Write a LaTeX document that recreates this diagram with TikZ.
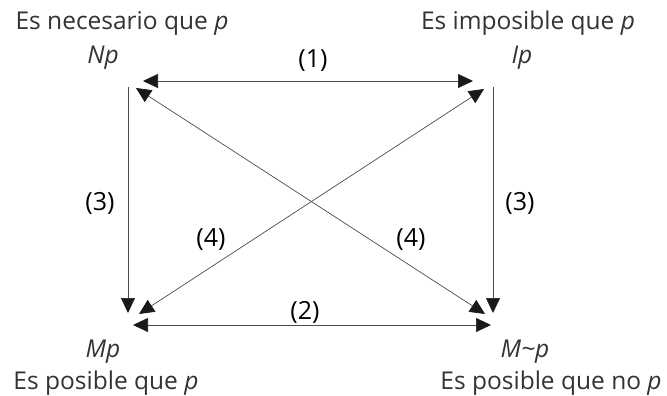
\documentclass[tikz,border=0pt]{standalone}
\usepackage{fontspec}
\setmainfont{Open Sans}
\usetikzlibrary{arrows.meta}
\begin{document}
\begin{tikzpicture}[x=1pt,y=-1pt,
  lbl/.style={inner sep=0pt, font=\fontsize{24.5}{28}\selectfont, text=black!80},
  num/.style={inner sep=0pt, font=\fontsize{25}{29}\selectfont, text=black},
  tip/.tip={Triangle[length=15pt,width=14pt,color=black!90]},
  con/.style={draw=black!70, line width=0.7pt, {tip}-{tip}},
  one/.style={draw=black!70, line width=0.7pt, -{tip}}]
\useasboundingbox (0,0) rectangle (667,396);
% labels
\node[lbl] (tN) at (122,23) {Es necesario que \textit{p}};
\node[lbl] (N) at (103,58) {\textit{Np}};
\node[lbl] (tI) at (528,23) {Es imposible que \textit{p}};
\node[lbl] (I) at (522,58) {\textit{Ip}};
\node[lbl] (M) at (103,352) {\textit{Mp}};
\node[lbl] (tM) at (106,383) {Es posible que \textit{p}};
\node[lbl] (Mn) at (525,352) {\textit{M\char"007Ep}};
\node[lbl] (tMn) at (551,383) {Es posible que no \textit{p}};
\node[num] (l1) at (313,61) {(1)};
\node[num] (l2) at (305,312) {(2)};
\node[num] (l3a) at (100,203) {(3)};
\node[num] (l3b) at (520,203) {(3)};
\node[num] (l4a) at (211,240) {(4)};
\node[num] (l4b) at (411,240) {(4)};
% endpoints
\coordinate (a1) at (143,81);
\coordinate (b1) at (473,81);
\coordinate (a2) at (133,325);
\coordinate (b2) at (491,325);
\coordinate (vl1) at (128,87);
\coordinate (vl2) at (128,313);
\coordinate (vr1) at (493,87);
\coordinate (vr2) at (493,313);
\coordinate (d1s) at (136,88);
\coordinate (d1e) at (485,314);
\coordinate (d2s) at (139,314);
\coordinate (d2e) at (484,89);
% connectors
\draw[con] (a1) -- (b1);
\draw[con] (a2) -- (b2);
\draw[one] (vl1) -- (vl2);
\draw[one] (vr1) -- (vr2);
\draw[con] (d1s) -- (d1e);
\draw[con] (d2s) -- (d2e);
\end{tikzpicture}
\end{document}
